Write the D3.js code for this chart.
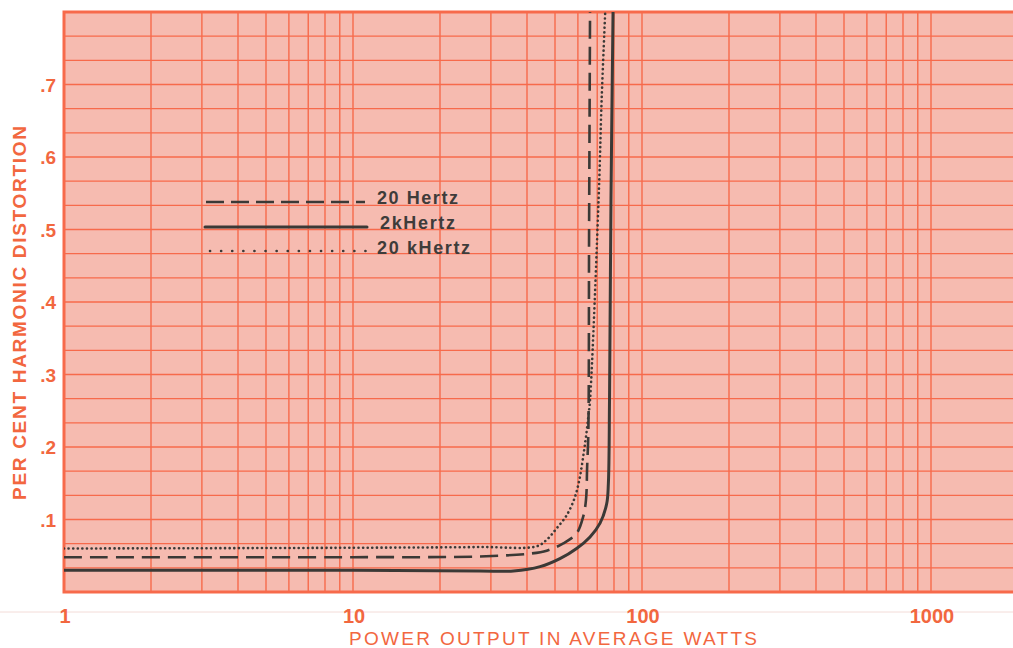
<!DOCTYPE html>
<html>
<head>
<meta charset="utf-8">
<script src="https://cdn.jsdelivr.net/npm/d3@7"></script>
<style>
  body { margin: 0; background: #fff; }
  svg { display: block; }
</style>
</head>
<body>
<div id="chart"></div>
<script>
// tick labels
var xTickValues = [1, 10, 100, 1000];
var yTickValues = [0.1, 0.2, 0.3, 0.4, 0.5, 0.6, 0.7];
var yTickLabels = [".1", ".2", ".3", ".4", ".5", ".6", ".7"];

// series (watts, per cent THD)
var seriesNames = ["20 Hertz", "2kHertz", "20 kHertz"];
var hz20Watts = [1, 10, 27.5, 41.0, 46.8, 53.4, 59.4, 62.6, 64.0, 64.6, 65.2, 65.6, 66.1];
var hz20Thd = [0.048, 0.048, 0.049, 0.053, 0.057, 0.067, 0.081, 0.104, 0.127, 0.173, 0.219, 0.5, 0.8];
var khz2Watts = [1, 10, 27.5, 35.9, 44.4, 52.0, 59.4, 66.1, 71.6, 75.5, 76.5, 77.2, 78.1, 79.4];
var khz2Thd = [0.030, 0.030, 0.029, 0.029, 0.035, 0.046, 0.060, 0.076, 0.095, 0.122, 0.15, 0.265, 0.541, 0.8];
var khz20Watts = [1, 10, 27.5, 43.2, 46.8, 50.7, 54.9, 58.6, 61.0, 62.6, 64.0, 65.2, 66.1, 71.0, 72.5, 74.6];
var khz20Thd = [0.060, 0.061, 0.062, 0.063, 0.072, 0.088, 0.106, 0.131, 0.159, 0.187, 0.214, 0.242, 0.265, 0.558, 0.679, 0.8];

var attrs = {
  width: 1013,
  height: 648,
  left: 64,
  top: 12,
  bottom: 592,
  decade: 289,
  paper: "#f6bbb0",
  grid: "#f76a4b",
  ink: "#f2673f",
  pen: "#3b3936",
  font: "Liberation Sans, Arial, sans-serif"
};

var svg = d3.select("#chart").append("svg")
  .attr("width", attrs.width)
  .attr("height", attrs.height);

var x = d3.scaleLog()
  .domain([1, 2000])
  .range([attrs.left, attrs.left + attrs.decade * Math.log10(2000)]);
var y = d3.scaleLinear()
  .domain([0, 0.8])
  .range([attrs.bottom, attrs.top]);

svg.append("clipPath").attr("id", "plotClip")
  .append("rect")
  .attr("x", attrs.left).attr("y", attrs.top)
  .attr("width", attrs.width - attrs.left)
  .attr("height", attrs.bottom - attrs.top);

// faint fold line under the paper
svg.append("line")
  .attr("x1", 0).attr("x2", attrs.width)
  .attr("y1", 612).attr("y2", 612)
  .attr("stroke", "#f3dcd8").attr("stroke-width", 1);

// paper
svg.append("rect")
  .attr("x", attrs.left).attr("y", attrs.top)
  .attr("width", attrs.width - attrs.left)
  .attr("height", attrs.bottom - attrs.top)
  .attr("fill", attrs.paper);

var gridG = svg.append("g").attr("clip-path", "url(#plotClip)");

// vertical log grid 1..9 in every decade
var xGrid = [];
[1, 10, 100, 1000].forEach(function (d) {
  for (var k = 1; k < 10; k++) xGrid.push(d * k);
});
gridG.selectAll(".vgrid")
  .data(xGrid)
  .enter().append("line")
  .attr("class", "vgrid")
  .attr("x1", function (d) { return x(d); })
  .attr("x2", function (d) { return x(d); })
  .attr("y1", attrs.top).attr("y2", attrs.bottom)
  .attr("stroke", attrs.grid)
  .attr("stroke-width", 1.4);

// horizontal grid, three lines per 0.1
var yGrid = d3.range(1, 24).map(function (i) { return i * 0.1 / 3; });
gridG.selectAll(".hgrid")
  .data(yGrid)
  .enter().append("line")
  .attr("class", "hgrid")
  .attr("x1", attrs.left).attr("x2", attrs.width)
  .attr("y1", function (d) { return y(d); })
  .attr("y2", function (d) { return y(d); })
  .attr("stroke", attrs.grid)
  .attr("stroke-width", 1.4);

// frame
svg.append("path")
  .attr("d", "M" + attrs.width + "," + attrs.top + "H" + attrs.left + "V" + attrs.bottom + "H" + attrs.width)
  .attr("fill", "none")
  .attr("stroke", attrs.grid)
  .attr("stroke-width", 3);

// tick labels
svg.selectAll(".ylab")
  .data(yTickValues)
  .enter().append("text")
  .attr("class", "ylab")
  .attr("x", 56)
  .attr("y", function (d) { return y(d) + 7; })
  .attr("text-anchor", "end")
  .attr("font-family", attrs.font)
  .attr("font-weight", "bold")
  .attr("font-size", 19)
  .attr("fill", attrs.ink)
  .text(function (d, i) { return yTickLabels[i]; });

svg.selectAll(".xlab")
  .data(xTickValues)
  .enter().append("text")
  .attr("class", "xlab")
  .attr("x", function (d) { return x(d) + 1; })
  .attr("y", 623)
  .attr("text-anchor", "middle")
  .attr("font-family", attrs.font)
  .attr("font-weight", "bold")
  .attr("font-size", 20)
  .attr("fill", attrs.ink)
  .text(function (d) { return d; });

// axis titles
svg.append("text")
  .attr("x", 553).attr("y", 645)
  .attr("text-anchor", "middle")
  .attr("font-family", attrs.font)
  .attr("font-size", 19)
  .attr("textLength", 408)
  .attr("fill", attrs.ink)
  .text("POWER OUTPUT IN AVERAGE WATTS");

svg.append("text")
  .attr("transform", "translate(26,313) rotate(-90)")
  .attr("text-anchor", "middle")
  .attr("font-family", attrs.font)
  .attr("font-weight", "bold")
  .attr("font-size", 19)
  .attr("textLength", 374)
  .attr("fill", attrs.ink)
  .text("PER CENT HARMONIC DISTORTION");

// curves
var styles = [
  { dash: "18,8", width: 2.6, cap: "butt", legendDash: "18,7" },
  { dash: null, width: 3, cap: "round", legendDash: null },
  { dash: "0.1,4.5", width: 2.6, cap: "round", legendDash: "0.1,11" }
];
var series = [
  d3.zip(hz20Watts, hz20Thd),
  d3.zip(khz2Watts, khz2Thd),
  d3.zip(khz20Watts, khz20Thd)
];

var line = d3.line()
  .x(function (d) { return x(d[0]); })
  .y(function (d) { return y(d[1]); })
  .curve(d3.curveCatmullRom.alpha(0.5));

var curveG = svg.append("g").attr("clip-path", "url(#plotClip)");
curveG.selectAll(".curve")
  .data(series)
  .enter().append("path")
  .attr("class", "curve")
  .attr("d", line)
  .attr("fill", "none")
  .attr("stroke", attrs.pen)
  .attr("stroke-width", function (d, i) { return styles[i].width; })
  .attr("stroke-linecap", function (d, i) { return styles[i].cap; })
  .attr("stroke-dasharray", function (d, i) { return styles[i].dash; });

// legend
var legendRows = [
  { y: 202, x1: 206, x2: 365, tx: 377, ty: 204, len: 81 },
  { y: 227, x1: 205, x2: 367, tx: 380, ty: 229, len: 75 },
  { y: 251, x1: 210, x2: 370, tx: 377, ty: 254, len: 93 }
];
var legend = svg.append("g");
legend.selectAll(".lline")
  .data(legendRows)
  .enter().append("line")
  .attr("x1", function (d) { return d.x1; })
  .attr("x2", function (d) { return d.x2; })
  .attr("y1", function (d) { return d.y; })
  .attr("y2", function (d) { return d.y; })
  .attr("stroke", attrs.pen)
  .attr("stroke-width", function (d, i) { return styles[i].width; })
  .attr("stroke-linecap", function (d, i) { return styles[i].cap; })
  .attr("stroke-dasharray", function (d, i) { return styles[i].legendDash; });
legend.selectAll(".ltext")
  .data(legendRows)
  .enter().append("text")
  .attr("x", function (d) { return d.tx; })
  .attr("y", function (d) { return d.ty; })
  .attr("font-family", attrs.font)
  .attr("font-weight", "bold")
  .attr("font-size", 18)
  .attr("textLength", function (d) { return d.len; })
  .attr("fill", "#3e3c3a")
  .text(function (d, i) { return seriesNames[i]; });
</script>
</body>
</html>
